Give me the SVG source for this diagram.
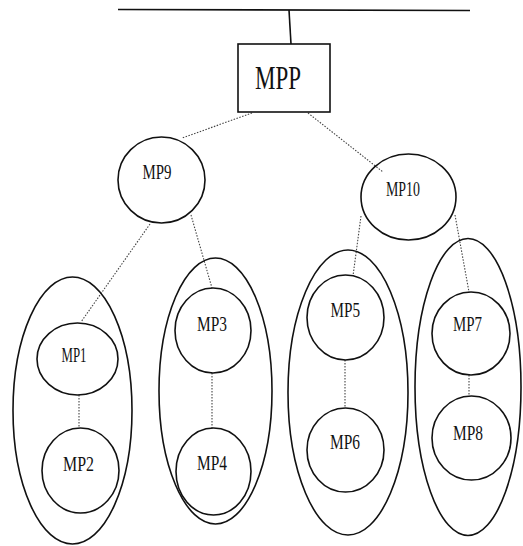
<svg xmlns="http://www.w3.org/2000/svg" width="523" height="546" viewBox="0 0 523 546">
<style>
.n{fill:none;stroke:#111;stroke-width:1.6}
.c{fill:none;stroke:#444;stroke-width:1.1;stroke-dasharray:1.5 1.5}
.s{fill:none;stroke:#111;stroke-width:1.6}
text{font-family:"Liberation Serif","Times New Roman",serif;fill:#111}
.t{font-size:22px}
</style>
<rect width="523" height="546" fill="#fff"/>
<g id="bus"><line class="s" x1="118" y1="9.5" x2="470" y2="10.5"/></g>
<g id="connectors">
<line class="s" x1="289" y1="10" x2="291" y2="44"/>
<line class="c" x1="252" y1="113" x2="182" y2="138"/>
<line class="c" x1="308" y1="113" x2="383" y2="172"/>
<line class="c" x1="150" y1="224" x2="81" y2="322"/>
<line class="c" x1="191" y1="215" x2="212" y2="288"/>
<line class="c" x1="361" y1="216" x2="353" y2="276"/>
<line class="c" x1="455" y1="215" x2="469" y2="292"/>
<line class="c" x1="79" y1="395" x2="79" y2="428"/>
<line class="c" x1="212" y1="373" x2="212" y2="428"/>
<line class="c" x1="345" y1="360" x2="345" y2="408"/>
<line class="c" x1="469" y1="375" x2="469" y2="396"/>
</g>
<g id="MPP"><rect class="n" x="238" y="44" width="92" height="68"/><text x="255" y="88.5" font-size="34" textLength="46" lengthAdjust="spacingAndGlyphs">MPP</text></g>
<g id="MP9"><ellipse class="n" cx="161.5" cy="180" rx="43.5" ry="43"/><text x="142.5" y="178.5" font-size="20" textLength="29" lengthAdjust="spacingAndGlyphs">MP9</text></g>
<g id="MP10"><ellipse class="n" cx="408.5" cy="197" rx="47.5" ry="43"/><text class="t" x="386" y="196" textLength="34" lengthAdjust="spacingAndGlyphs">MP10</text></g>
<g id="group1"><ellipse class="n" cx="72.5" cy="410.5" rx="59.5" ry="133.5"/></g>
<g id="group2"><ellipse class="n" cx="215.5" cy="391" rx="56.5" ry="133"/></g>
<g id="group3"><ellipse class="n" cx="348" cy="392.5" rx="60" ry="142.5"/></g>
<g id="group4"><ellipse class="n" cx="468" cy="387" rx="53" ry="148.5"/></g>
<g id="MP1"><ellipse class="n" cx="77.5" cy="359" rx="40.5" ry="36"/><text x="61.5" y="362" font-size="20" textLength="25" lengthAdjust="spacingAndGlyphs">MP1</text></g>
<g id="MP2"><ellipse class="n" cx="80.5" cy="470.5" rx="38.5" ry="42.5"/><text class="t" x="63" y="471" textLength="31" lengthAdjust="spacingAndGlyphs">MP2</text></g>
<g id="MP3"><ellipse class="n" cx="213" cy="330.5" rx="38" ry="42.5"/><text class="t" x="197" y="331" textLength="30" lengthAdjust="spacingAndGlyphs">MP3</text></g>
<g id="MP4"><ellipse class="n" cx="213.5" cy="471.5" rx="37.5" ry="43.5"/><text class="t" x="197" y="470" textLength="30" lengthAdjust="spacingAndGlyphs">MP4</text></g>
<g id="MP5"><ellipse class="n" cx="345.5" cy="317.5" rx="38.5" ry="42.5"/><text class="t" x="330.5" y="316.5" textLength="29.5" lengthAdjust="spacingAndGlyphs">MP5</text></g>
<g id="MP6"><ellipse class="n" cx="345.5" cy="450" rx="38.5" ry="42"/><text class="t" x="330" y="449" textLength="30" lengthAdjust="spacingAndGlyphs">MP6</text></g>
<g id="MP7"><ellipse class="n" cx="471" cy="333.5" rx="39" ry="41.5"/><text class="t" x="453" y="331" textLength="29" lengthAdjust="spacingAndGlyphs">MP7</text></g>
<g id="MP8"><ellipse class="n" cx="471.5" cy="438" rx="39.5" ry="42"/><text class="t" x="453" y="440" textLength="30" lengthAdjust="spacingAndGlyphs">MP8</text></g>
</svg>
